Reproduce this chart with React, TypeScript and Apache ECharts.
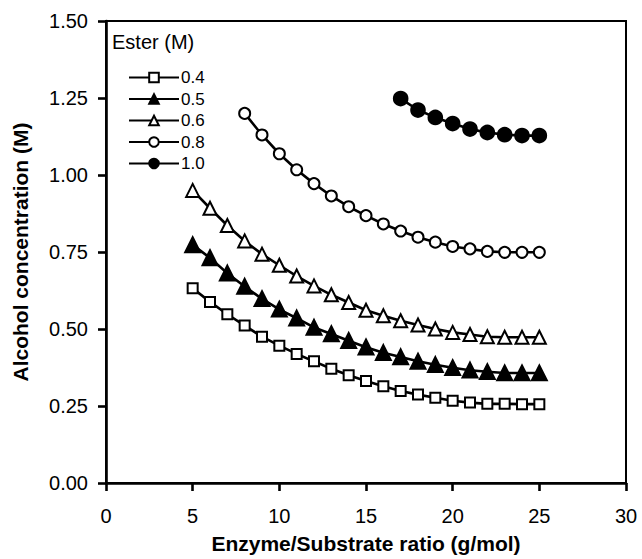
import React, { useEffect, useRef } from "react";
import * as echarts from "echarts";

const ratio5to25 = [5, 6, 7, 8, 9, 10, 11, 12, 13, 14, 15, 16, 17, 18, 19, 20, 21, 22, 23, 24, 25];
const ratio8to25 = [8, 9, 10, 11, 12, 13, 14, 15, 16, 17, 18, 19, 20, 21, 22, 23, 24, 25];
const ratio17to25 = [17, 18, 19, 20, 21, 22, 23, 24, 25];

const ester04 = [0.632, 0.588, 0.548, 0.511, 0.475, 0.446, 0.419, 0.395, 0.371, 0.35, 0.331, 0.314, 0.299, 0.287, 0.277, 0.267, 0.261, 0.257, 0.257, 0.256, 0.256];
const ester05 = [0.773, 0.731, 0.681, 0.638, 0.598, 0.564, 0.535, 0.505, 0.484, 0.462, 0.441, 0.423, 0.409, 0.395, 0.384, 0.374, 0.366, 0.361, 0.357, 0.357, 0.357];
const ester06 = [0.95, 0.892, 0.836, 0.786, 0.743, 0.707, 0.672, 0.64, 0.611, 0.586, 0.561, 0.543, 0.527, 0.513, 0.5, 0.489, 0.482, 0.475, 0.473, 0.473, 0.473];
const ester08 = [1.2, 1.13, 1.069, 1.017, 0.972, 0.932, 0.897, 0.868, 0.841, 0.818, 0.798, 0.782, 0.768, 0.76, 0.752, 0.749, 0.749, 0.749];
const ester10 = [1.248, 1.211, 1.187, 1.167, 1.149, 1.138, 1.131, 1.128, 1.128];

const FONT = "Liberation Sans, Arial, sans-serif";

function pairs(xs: number[], ys: number[]) {
  return xs.map((x, i) => [x, ys[i]]);
}

export default function App() {
  const ref = useRef<HTMLDivElement>(null);
  useEffect(() => {
    if (!ref.current) return;
    const chart = echarts.init(ref.current, null, { renderer: "svg" });
    const mk = (name: string, xs: number[], ys: number[], symbol: string, size: number) => ({
      name,
      type: "line",
      data: pairs(xs, ys),
      symbol,
      symbolSize: size,
      showSymbol: true,
      smooth: false,
      lineStyle: { color: "#000", width: 2.6 },
      itemStyle: { color: "#000", borderColor: "#000", borderWidth: 2.6 },
      emphasis: { disabled: true },
      z: 3,
    });
    chart.setOption({
      animation: false,
      backgroundColor: "#fff",
      grid: {
        left: 106,
        right: 16,
        top: 21,
        bottom: 72,
        show: true,
        borderColor: "#000",
        borderWidth: 2,
        backgroundColor: "transparent",
      },
      graphic: [
        {
          type: "text",
          left: 112,
          top: 32,
          style: { text: "Ester (M)", fontSize: 20, fontFamily: FONT, fill: "#000" },
        },
      ],
      legend: {
        orient: "vertical",
        left: 128,
        top: 69,
        itemWidth: 50,
        itemHeight: 12,
        itemGap: 4.5,
        padding: 0,
        textStyle: { fontSize: 17, fontFamily: FONT, color: "#000", padding: [0, 0, 0, -3] },
        data: ["0.4", "0.5", "0.6", "0.8", "1.0"],
      },
      xAxis: {
        type: "value",
        min: 0,
        max: 30,
        interval: 5,
        name: "Enzyme/Substrate ratio (g/mol)",
        nameLocation: "middle",
        nameGap: 50,
        nameTextStyle: { fontSize: 21, fontWeight: "bold", fontFamily: FONT, color: "#000" },
        axisLine: { lineStyle: { color: "#000", width: 2.6 } },
        axisTick: { show: true, inside: false, length: 8, lineStyle: { color: "#000", width: 2.6 } },
        axisLabel: { fontSize: 20, fontFamily: FONT, color: "#000", margin: 23 },
        splitLine: { show: false },
      },
      yAxis: {
        type: "value",
        min: 0,
        max: 1.5,
        interval: 0.25,
        name: "Alcohol concentration (M)",
        nameLocation: "middle",
        nameGap: 75,
        nameTextStyle: { fontSize: 21, fontWeight: "bold", fontFamily: FONT, color: "#000" },
        axisLine: { lineStyle: { color: "#000", width: 2.6 } },
        axisTick: { show: true, inside: false, length: 8, lineStyle: { color: "#000", width: 2.6 } },
        axisLabel: {
          fontSize: 20,
          fontFamily: FONT,
          color: "#000",
          margin: 18,
          formatter: (v: number) => v.toFixed(2),
        },
        splitLine: { show: false },
      },
      series: [
        mk("0.4", ratio5to25, ester04, "emptyRect", 10),
        mk("0.5", ratio5to25, ester05, "triangle", 14),
        mk("0.6", ratio5to25, ester06, "emptyTriangle", 13),
        mk("0.8", ratio8to25, ester08, "emptyCircle", 11),
        mk("1.0", ratio17to25, ester10, "circle", 13),
      ],
    });
    return () => chart.dispose();
  }, []);
  return (
    <div
      ref={ref}
      style={{ position: "absolute", left: 0, top: 0, width: 642, height: 559, background: "#fff" }}
    />
  );
}
